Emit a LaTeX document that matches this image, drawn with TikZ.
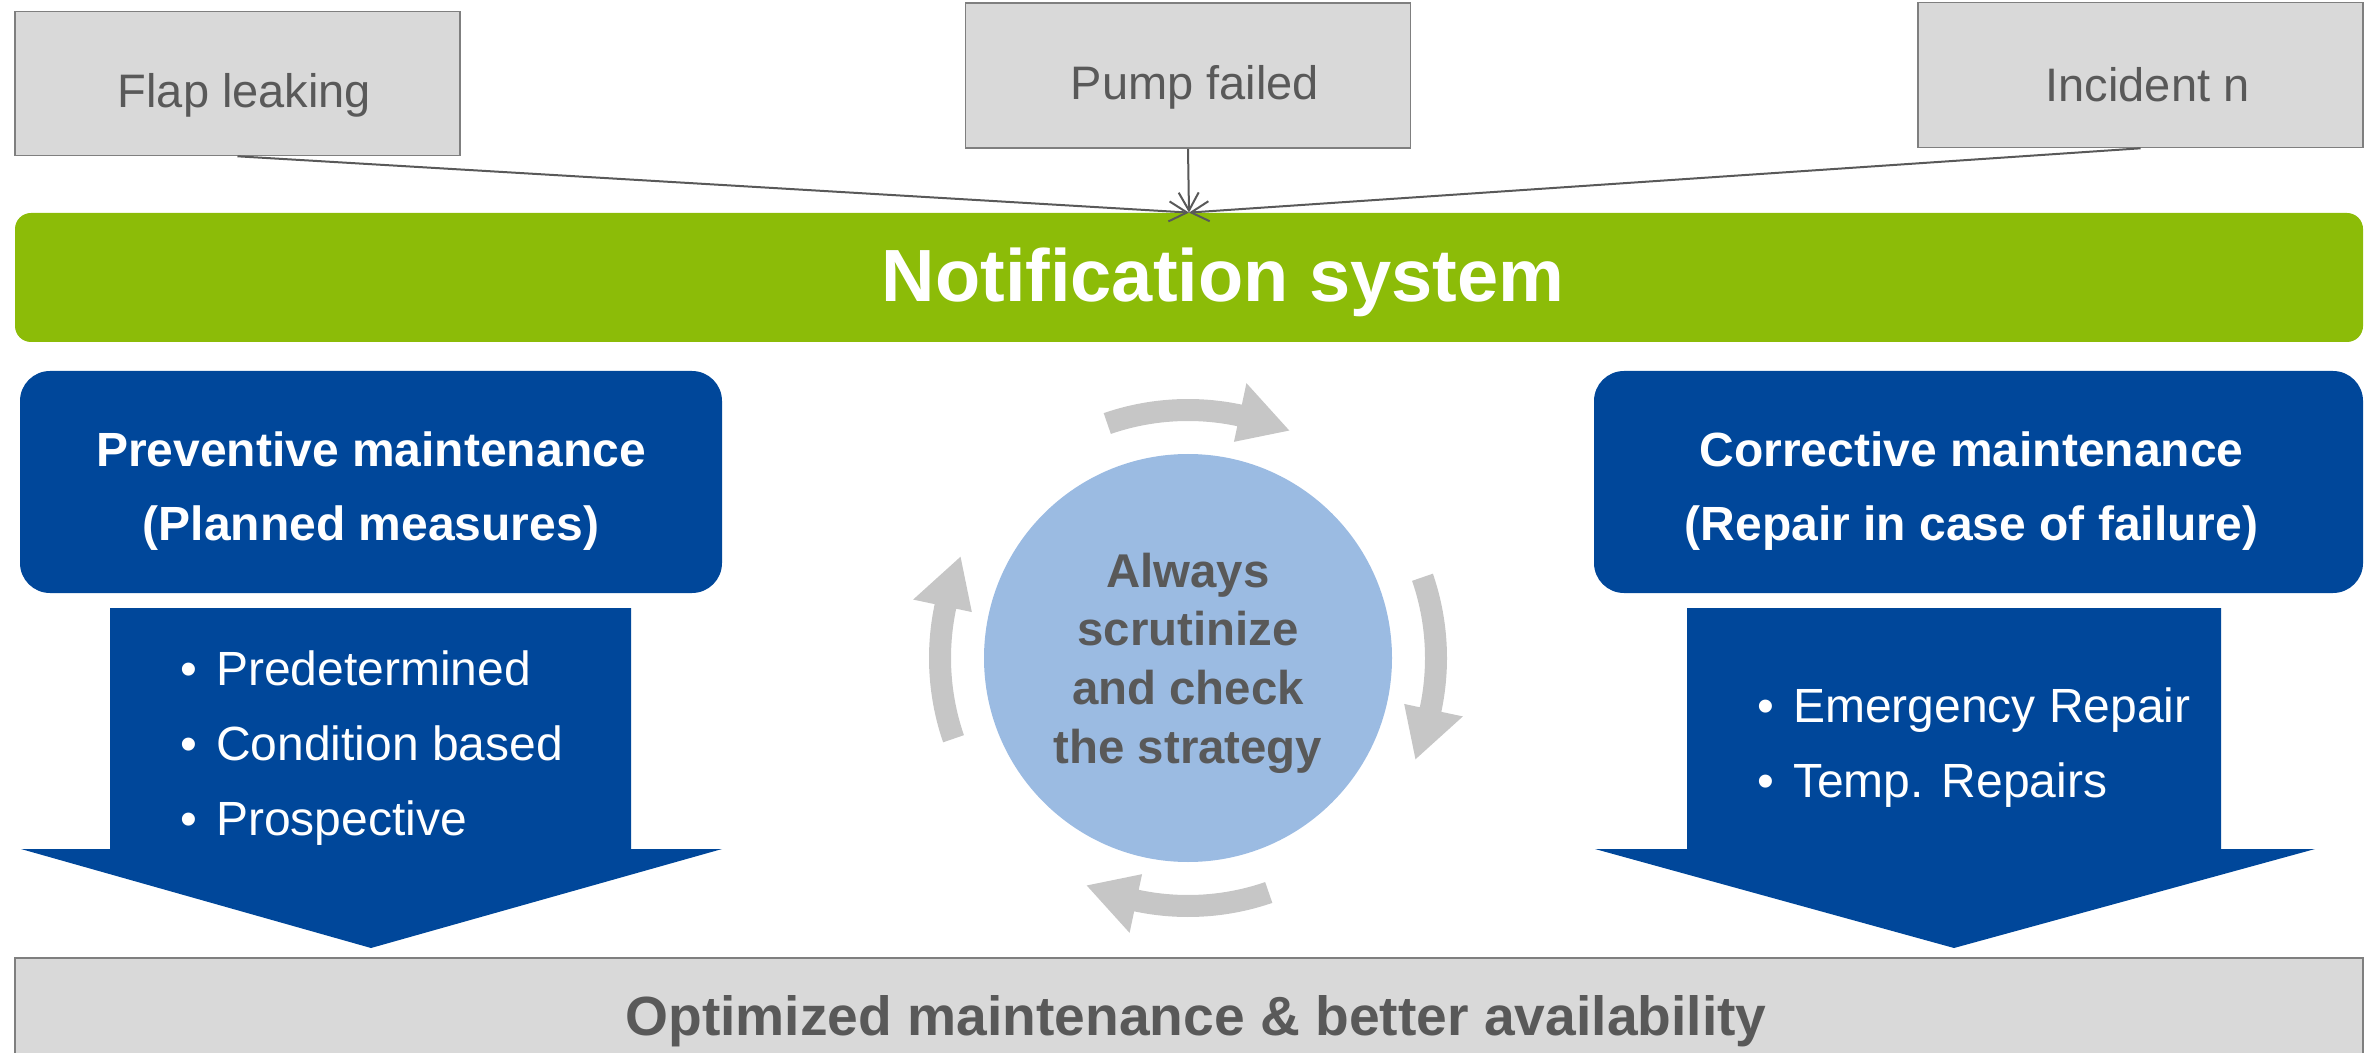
\documentclass[tikz,border=0pt]{standalone}
\usepackage{fontspec}
\setmainfont{Liberation Sans}
\usetikzlibrary{arrows.meta}

\definecolor{boxgray}{HTML}{D9D9D9}
\definecolor{edgegray}{HTML}{7F7F7F}
\definecolor{txtgray}{HTML}{595959}
\definecolor{notegreen}{HTML}{8CBC08}
\definecolor{deepblue}{HTML}{00479A}
\definecolor{lightblue}{HTML}{9BBBE2}
\definecolor{cyclegray}{HTML}{C6C6C6}

\tikzset{
  incbox/.style={draw=edgegray, line width=0.8pt, fill=boxgray,
    minimum width=222.5pt, minimum height=72pt, inner sep=0pt},
  inctext/.style={text=txtgray, font=\fontsize{23.5pt}{28pt}\selectfont, inner sep=0pt},
  conn/.style={draw=txtgray, line width=1pt,
    -{Straight Barb[length=9pt,width=10pt,line width=1pt]}},
  bluebox/.style={fill=deepblue, rounded corners=15pt, minimum height=111pt,
    inner sep=0pt},
  bluetext/.style={text=white, align=center, inner sep=0pt,
    font=\bfseries\fontsize{24pt}{37pt}\selectfont},
  bluearrow/.style={fill=deepblue},
  itemtext/.style={text=white, inner sep=0pt, anchor=base west,
    font=\fontsize{24pt}{28pt}\selectfont},
  cyclearrow/.style={fill=cyclegray},
}

\newcommand{\cyclearrow}[3]{%
  \fill[cyclearrow] plot[domain=#1:#2, samples=40] (\x:259)
    -- (#2:281) -- (#3:249) -- (#2:221)
    -- plot[domain=#2:#1, samples=40] (\x:237) -- cycle;}

\begin{document}
\begin{tikzpicture}[x=0.5pt, y=-0.5pt]
\useasboundingbox (0,0) rectangle (2372,1053);

% incident boxes
\node[incbox] (flap) at (237.5,83.5) {};
\node[inctext] (flapt) at ([shift={(7,12)}]flap.center) {Flap leaking};
\node[incbox, minimum height=72.5pt] (pump) at (1188,75.5) {};
\node[inctext] (pumpt) at ([shift={(7,12)}]pump.center) {Pump failed};
\node[incbox, minimum height=72.5pt] (incid) at (2140.5,75) {};
\node[inctext] (incidt) at ([shift={(7,10)}]incid.center) {Incident n};

% notification bar
\node[fill=notegreen, rounded corners=8pt, minimum width=1174pt, minimum height=64.5pt,
  inner sep=0pt] (notif) at (1189,277.5) {};
\node[text=white, inner sep=0pt, font=\bfseries\fontsize{37pt}{44pt}\selectfont]
  (notift) at ([shift={(34,5)}]notif.center) {Notification system};

\draw[conn] (flap.south) -- (notif.north);
\draw[conn] (pump.south) -- (notif.north);
\draw[conn] (incid.south) -- (notif.north);

% maintenance strategies
\node[bluebox, minimum width=351pt] (prev) at (371,482) {};
\node[bluetext] (prevt) at ([shift={(0,9)}]prev.center)
  {Preventive maintenance\\(Planned measures)};
\node[bluebox, minimum width=384.5pt] (corr) at (1978.5,482) {};
\node[bluetext] (corrt) at ([shift={(-7,9)}]corr.center)
  {Corrective maintenance\\(Repair in case of failure)};

\fill[bluearrow] (110,608) -- (631,608) -- (631,849) -- (722,849) -- (371,948)
  -- (21,849) -- (110,849) -- cycle;
\fill[bluearrow] (1687,608) -- (2221,608) -- (2221,849) -- (2315,849) -- (1954,948)
  -- (1595,849) -- (1687,849) -- cycle;

\node[itemtext] (p1) at (180,685) {•\hspace{9.5pt}Predetermined};
\node[itemtext] (p2) at (180,760) {•\hspace{9.5pt}Condition based};
\node[itemtext] (p3) at (180,835) {•\hspace{9.5pt}Prospective};
\node[itemtext] (c1) at (1757,722) {•\hspace{9.5pt}Emergency Repair};
\node[itemtext] (c2) at (1757,797) {•\hspace{9.5pt}Temp. Repairs};

% review cycle
\node[circle, fill=lightblue, minimum size=204pt, inner sep=0pt] (cyc) at (1188,658) {};
\node[align=center, inner sep=0pt, text=txtgray,
  font=\bfseries\fontsize{23.7pt}{29.3pt}\selectfont]
  (cyct) at ([shift={(0,5)}]cyc.center) {Always\\scrutinize\\and check\\the strategy};

\begin{scope}[shift={(1188,658)}, y=0.5pt]
  \cyclearrow{109}{78}{66}
  \cyclearrow{19}{-12}{-24}
  \cyclearrow{-71}{-102}{-114}
  \cyclearrow{-161}{-192}{-204}
\end{scope}

% result bar
\fill[boxgray] (15,958) rectangle (2363,1060);
\draw[edgegray, line width=1pt] (15,1060) -- (15,958) -- (2363,958) -- (2363,1060);
\node[text=txtgray, anchor=base, inner sep=0pt,
  font=\bfseries\fontsize{27.6pt}{33pt}\selectfont]
  (result) at (1196,1035) {Optimized maintenance \& better availability};
\end{tikzpicture}
\end{document}
